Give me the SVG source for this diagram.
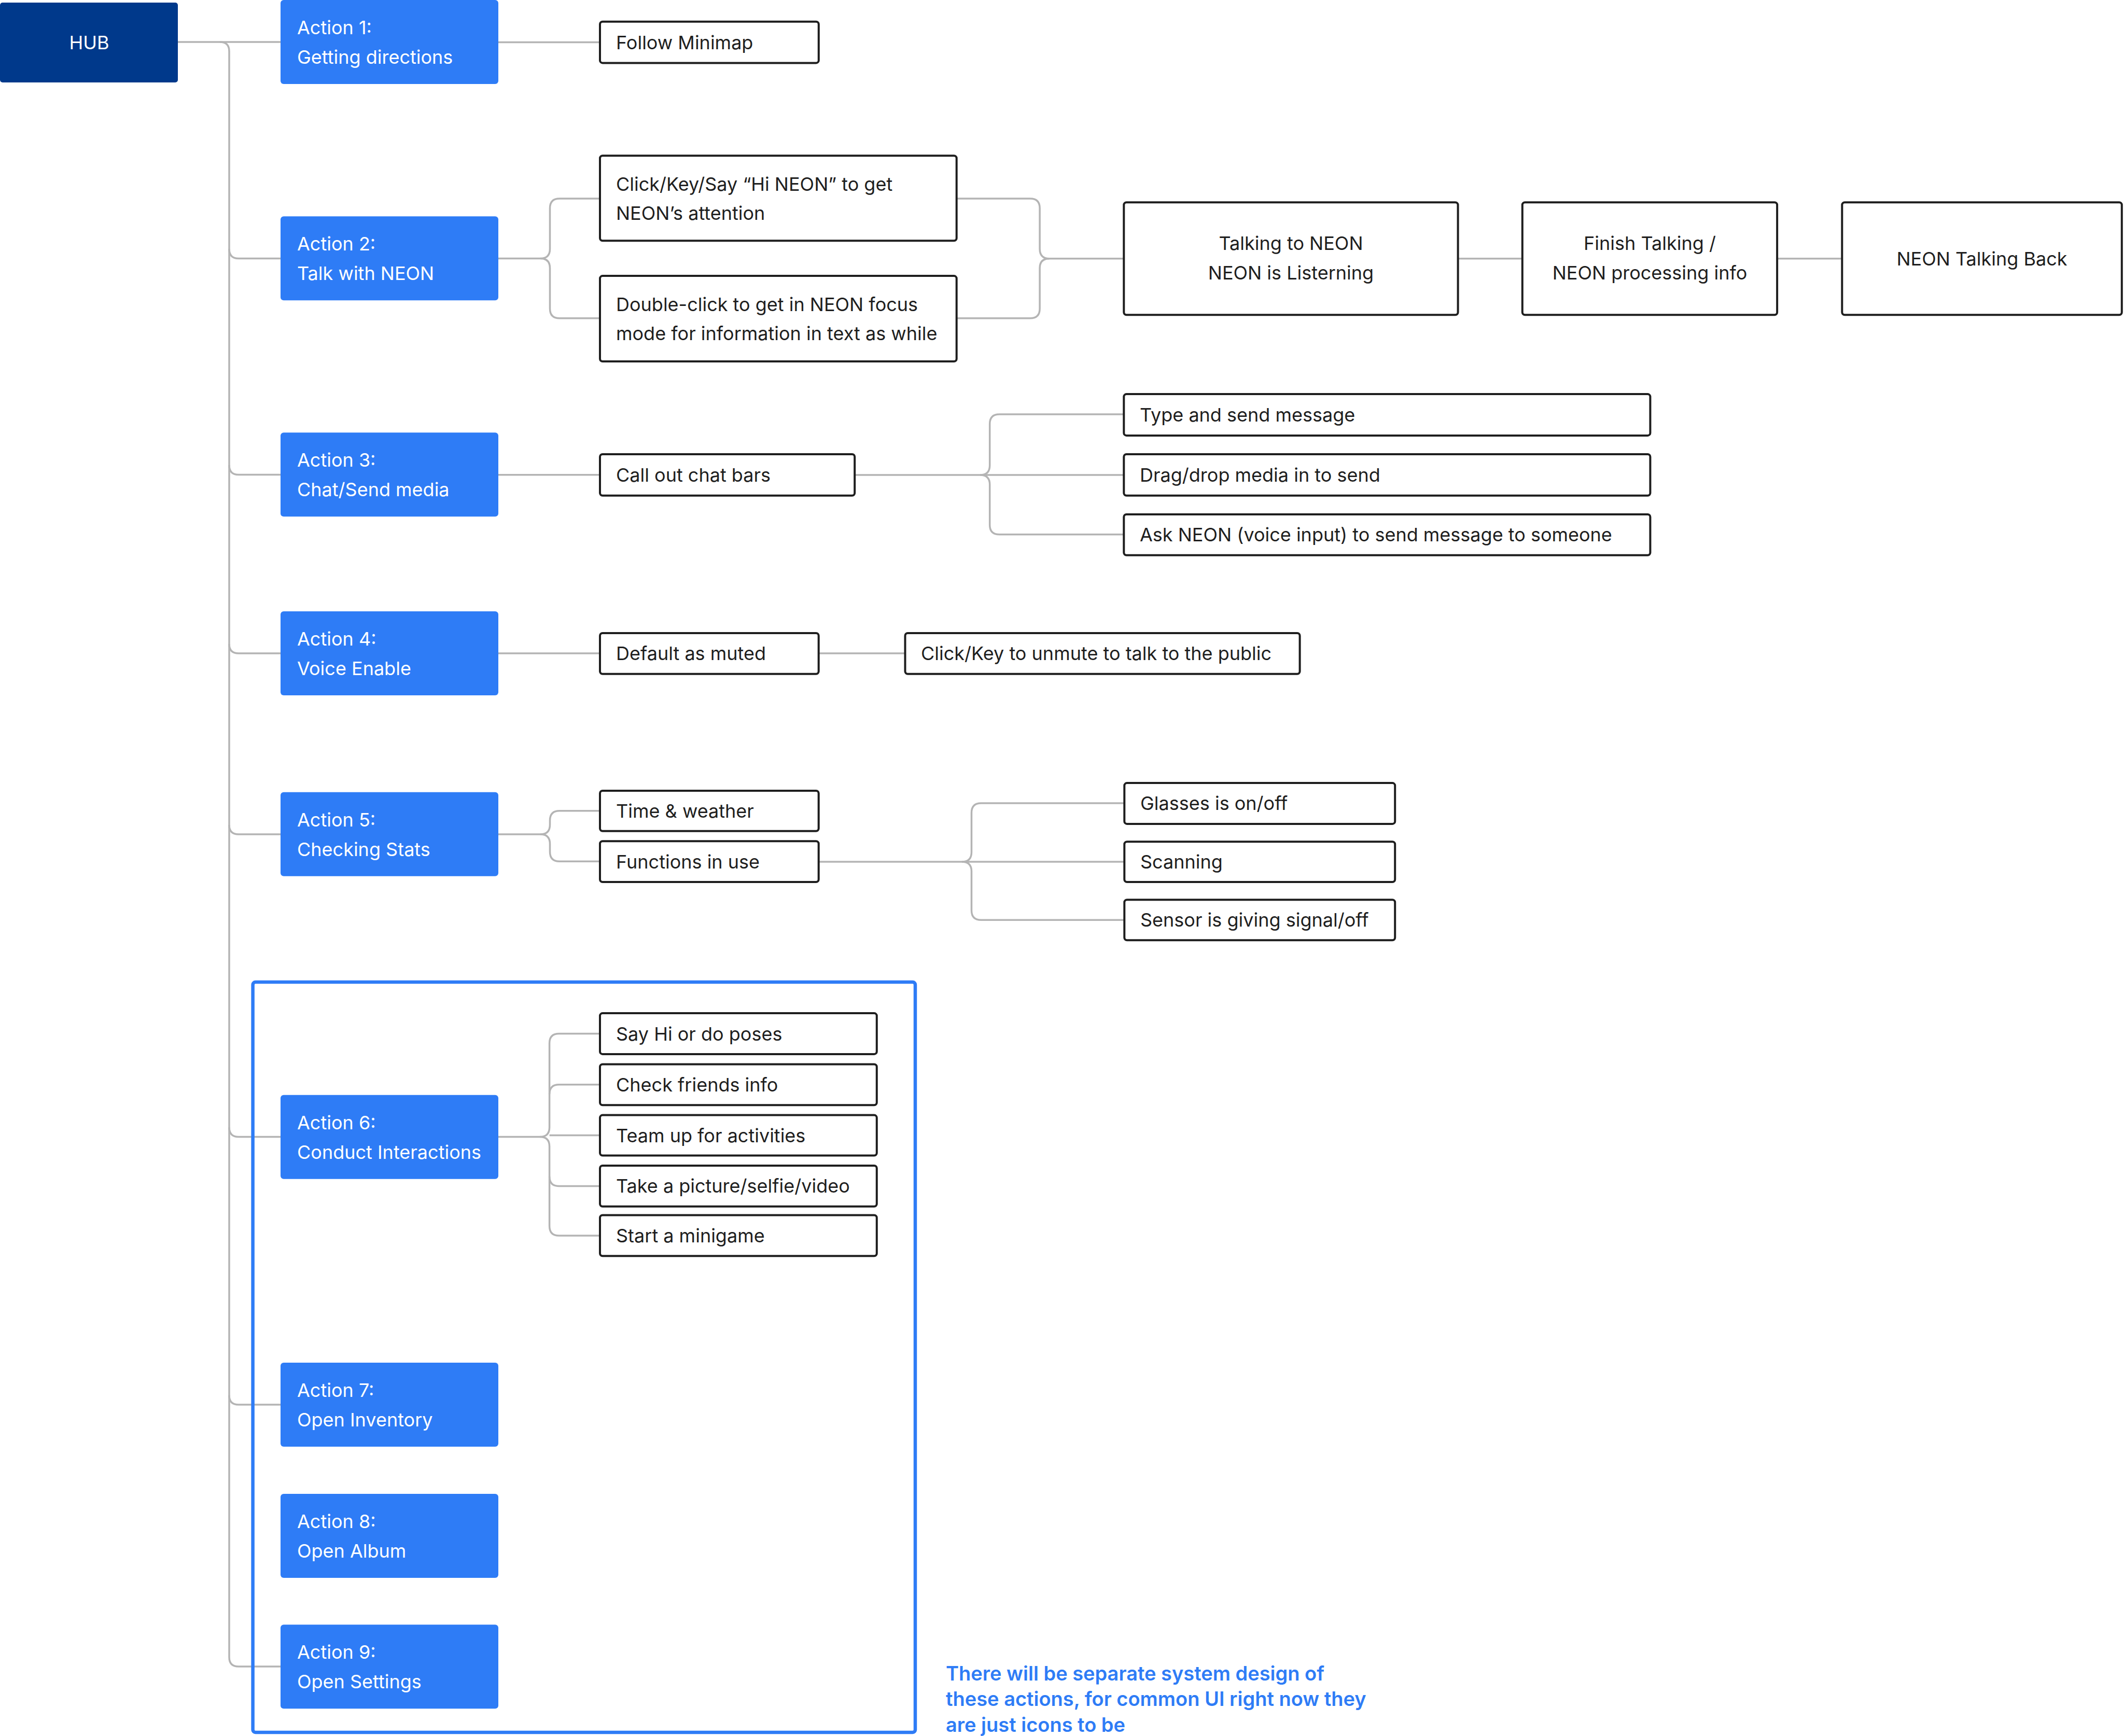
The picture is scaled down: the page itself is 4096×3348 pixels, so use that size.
<svg xmlns="http://www.w3.org/2000/svg" width="4096" height="3348" viewBox="0 0 4096 3348">
<style>
.hub{fill:#00398b}
.act{fill:#2e7cf6}
.box{fill:#ffffff;stroke:#1e1e1e;stroke-width:4}
.wt{fill:#ffffff;font-family:Inter,"Liberation Sans",sans-serif;font-size:36px}
.bt{fill:#1e1e1e;font-family:Inter,"Liberation Sans",sans-serif;font-size:36px}
.ct{text-anchor:middle}
.con{fill:none;stroke:#b4b4b4;stroke-width:3.5}
.frame{fill:none;stroke:#2e7cf6;stroke-width:6.5}
.note{fill:#2e7cf6;font-family:Inter,"Liberation Sans",sans-serif;font-size:38px;font-weight:600}
</style>
<rect width="4096" height="3348" fill="#ffffff"/>
<g id="connectors">
<path class="con" d="M343 81 H541"/>
<path class="con" d="M424 81 Q442 81 442 99 V3196 Q442 3214 460 3214 H541"/>
<path class="con" d="M442 480 Q442 498.5 460 498.5 H541"/>
<path class="con" d="M442 897 Q442 915.5 460 915.5 H541"/>
<path class="con" d="M442 1242 Q442 1260 460 1260 H541"/>
<path class="con" d="M442 1591 Q442 1609 460 1609 H541"/>
<path class="con" d="M442 2174 Q442 2192.5 460 2192.5 H541"/>
<path class="con" d="M442 2691 Q442 2709 460 2709 H541"/>
<path class="con" d="M961 81.5 H1157"/>
<path class="con" d="M961 498.5 H1042 Q1060.5 498.5 1060.5 480 V401.4 Q1060.5 382.9 1079 382.9 H1157"/>
<path class="con" d="M1042 498.5 Q1060.5 498.5 1060.5 517 V595.2 Q1060.5 613.7 1079 613.7 H1157"/>
<path class="con" d="M1844.7 382.9 H1986.6 Q2005.1 382.9 2005.1 401.4 V480 Q2005.1 498.7 2023.6 498.7 H2167.3"/>
<path class="con" d="M1844.7 613.7 H1986.6 Q2005.1 613.7 2005.1 595.2 V517 Q2005.1 498.7 2023.6 498.7"/>
<path class="con" d="M2811.6 498.7 H2935.8"/>
<path class="con" d="M3427.1 498.7 H3552.3"/>
<path class="con" d="M961 915.7 H1157"/>
<path class="con" d="M1648.2 915.9 H2167.3"/>
<path class="con" d="M1890 915.9 Q1908.7 915.9 1908.7 897.4 V817.6 Q1908.7 799.1 1927.2 799.1 H2167.3"/>
<path class="con" d="M1890 915.9 Q1908.7 915.9 1908.7 934.4 V1012.3 Q1908.7 1030.8 1927.2 1030.8 H2167.3"/>
<path class="con" d="M961 1260 H1157"/>
<path class="con" d="M1578.7 1260 H1745.5"/>
<path class="con" d="M961 1609 H1042 Q1060.5 1609 1060.5 1590.5 V1582.3 Q1060.5 1563.8 1079 1563.8 H1157"/>
<path class="con" d="M1042 1609 Q1060.5 1609 1060.5 1627.5 V1642.7 Q1060.5 1661.2 1079 1661.2 H1157"/>
<path class="con" d="M1578.7 1662 H2168.3"/>
<path class="con" d="M1855 1662 Q1873.5 1662 1873.5 1643.5 V1567.5 Q1873.5 1549 1892 1549 H2168.3"/>
<path class="con" d="M1855 1662 Q1873.5 1662 1873.5 1680.5 V1755.8 Q1873.5 1774.3 1892 1774.3 H2168.3"/>
<path class="con" d="M961 2192.5 H1041 Q1059.6 2192.5 1059.6 2174 V2012 Q1059.6 1993.5 1078 1993.5 H1157"/>
<path class="con" d="M1041 2192.5 Q1059.6 2192.5 1059.6 2211 V2364.4 Q1059.6 2382.9 1078 2382.9 H1157"/>
<path class="con" d="M1059.6 2110.3 Q1059.6 2091.8 1078 2091.8 H1157"/>
<path class="con" d="M1059.6 2189.6 H1157"/>
<path class="con" d="M1059.6 2268.9 Q1059.6 2287.4 1078 2287.4 H1157"/>
</g>
<rect id="group-frame" class="frame" x="487.6" y="1894" width="1277.4" height="1447" rx="5"/>
<g id="hub"><rect class="hub" x="0" y="5" width="343" height="154" rx="5"/><text class="wt ct" x="172" y="95">HUB</text></g>
<g id="action1"><rect class="act" x="541" y="0" width="420" height="162" rx="6"/><text class="wt" x="573" y="66">Action 1:</text><text class="wt" x="573" y="123">Getting directions</text></g>
<g id="action2"><rect class="act" x="541" y="417.2" width="420" height="162" rx="6"/><text class="wt" x="573" y="483">Action 2:</text><text class="wt" x="573" y="540">Talk with NEON</text></g>
<g id="action3"><rect class="act" x="541" y="834.3" width="420" height="162" rx="6"/><text class="wt" x="573" y="900">Action 3:</text><text class="wt" x="573" y="957">Chat/Send media</text></g>
<g id="action4"><rect class="act" x="541" y="1179.1" width="420" height="162" rx="6"/><text class="wt" x="573" y="1245">Action 4:</text><text class="wt" x="573" y="1302">Voice Enable</text></g>
<g id="action5"><rect class="act" x="541" y="1527.7" width="420" height="162" rx="6"/><text class="wt" x="573" y="1594">Action 5:</text><text class="wt" x="573" y="1651">Checking Stats</text></g>
<g id="action6"><rect class="act" x="541" y="2111.7" width="420" height="162" rx="6"/><text class="wt" x="573" y="2178">Action 6:</text><text class="wt" x="573" y="2235">Conduct Interactions</text></g>
<g id="action7"><rect class="act" x="541" y="2628" width="420" height="162" rx="6"/><text class="wt" x="573" y="2694">Action 7:</text><text class="wt" x="573" y="2751">Open Inventory</text></g>
<g id="action8"><rect class="act" x="541" y="2881.1" width="420" height="162" rx="6"/><text class="wt" x="573" y="2947">Action 8:</text><text class="wt" x="573" y="3004">Open Album</text></g>
<g id="action9"><rect class="act" x="541" y="3133.3" width="420" height="162" rx="6"/><text class="wt" x="573" y="3199">Action 9:</text><text class="wt" x="573" y="3256">Open Settings</text></g>
<g id="follow-minimap"><rect class="box" x="1157" y="41.7" width="421.8" height="79.7" rx="5"/><text class="bt" x="1188" y="95">Follow Minimap</text></g>
<g id="click-key-say"><rect class="box" x="1157" y="300.3" width="687.7" height="164" rx="5"/><text class="bt" x="1188" y="368">Click/Key/Say “Hi NEON” to get</text><text class="bt" x="1188" y="424">NEON’s attention</text></g>
<g id="double-click"><rect class="box" x="1157" y="532.1" width="687.7" height="165" rx="5"/><text class="bt" x="1188" y="600">Double-click to get in NEON focus</text><text class="bt" x="1188" y="656">mode for information in text as while</text></g>
<g id="talking"><rect class="box" x="2167.3" y="390.3" width="644.3" height="217" rx="5"/><text class="bt ct" x="2489.5" y="482">Talking to NEON</text><text class="bt ct" x="2489.5" y="539">NEON is Listerning</text></g>
<g id="finish"><rect class="box" x="2935.8" y="390.3" width="491.3" height="217" rx="5"/><text class="bt ct" x="3181.5" y="482">Finish Talking /</text><text class="bt ct" x="3181.5" y="539">NEON processing info</text></g>
<g id="talking-back"><rect class="box" x="3552.3" y="390.3" width="539.5" height="217" rx="5"/><text class="bt ct" x="3822" y="512">NEON Talking Back</text></g>
<g id="chat-bars"><rect class="box" x="1157" y="876" width="491.2" height="79.7" rx="5"/><text class="bt" x="1188" y="929">Call out chat bars</text></g>
<g id="type-send"><rect class="box" x="2167.3" y="760.1" width="1015.1" height="79.8" rx="5"/><text class="bt" x="2198" y="813">Type and send message</text></g>
<g id="drag-drop"><rect class="box" x="2167.3" y="876" width="1015.1" height="79.7" rx="5"/><text class="bt" x="2198" y="929">Drag/drop media in to send</text></g>
<g id="ask-neon"><rect class="box" x="2167.3" y="991.9" width="1015.1" height="78.8" rx="5"/><text class="bt" x="2198" y="1044">Ask NEON (voice input) to send message to someone</text></g>
<g id="default-muted"><rect class="box" x="1157" y="1220.9" width="421.7" height="78.8" rx="5"/><text class="bt" x="1188" y="1273">Default as muted</text></g>
<g id="unmute"><rect class="box" x="1745.5" y="1220.9" width="761.1" height="78.8" rx="5"/><text class="bt" x="1776" y="1273">Click/Key to unmute to talk to the public</text></g>
<g id="time-weather"><rect class="box" x="1157" y="1524.9" width="421.7" height="77.9" rx="5"/><text class="bt" x="1188" y="1577">Time &amp; weather</text></g>
<g id="functions"><rect class="box" x="1157" y="1622.3" width="421.7" height="78.7" rx="5"/><text class="bt" x="1188" y="1675">Functions in use</text></g>
<g id="glasses"><rect class="box" x="2168.3" y="1510.1" width="521.9" height="78.8" rx="5"/><text class="bt" x="2199" y="1562">Glasses is on/off</text></g>
<g id="scanning"><rect class="box" x="2168.3" y="1623.2" width="521.9" height="77.8" rx="5"/><text class="bt" x="2199" y="1675">Scanning</text></g>
<g id="sensor"><rect class="box" x="2168.3" y="1735.3" width="521.9" height="77.9" rx="5"/><text class="bt" x="2199" y="1787">Sensor is giving signal/off</text></g>
<g id="say-hi"><rect class="box" x="1157" y="1954.1" width="533.8" height="78.8" rx="5"/><text class="bt" x="1188" y="2007">Say Hi or do poses</text></g>
<g id="check-friends"><rect class="box" x="1157" y="2052.4" width="533.8" height="78.8" rx="5"/><text class="bt" x="1188" y="2105">Check friends info</text></g>
<g id="team-up"><rect class="box" x="1157" y="2150.6" width="533.8" height="77.9" rx="5"/><text class="bt" x="1188" y="2203">Team up for activities</text></g>
<g id="take-picture"><rect class="box" x="1157" y="2248" width="533.8" height="78.8" rx="5"/><text class="bt" x="1188" y="2300">Take a picture/selfie/video</text></g>
<g id="minigame"><rect class="box" x="1157" y="2343.5" width="533.8" height="78.8" rx="5"/><text class="bt" x="1188" y="2396">Start a minigame</text></g>
<g id="note"><text class="note" x="1824" y="3241">There will be separate system design of</text><text class="note" x="1824" y="3290">these actions, for common UI right now they</text><text class="note" x="1824" y="3340">are just icons to be</text></g>
</svg>
